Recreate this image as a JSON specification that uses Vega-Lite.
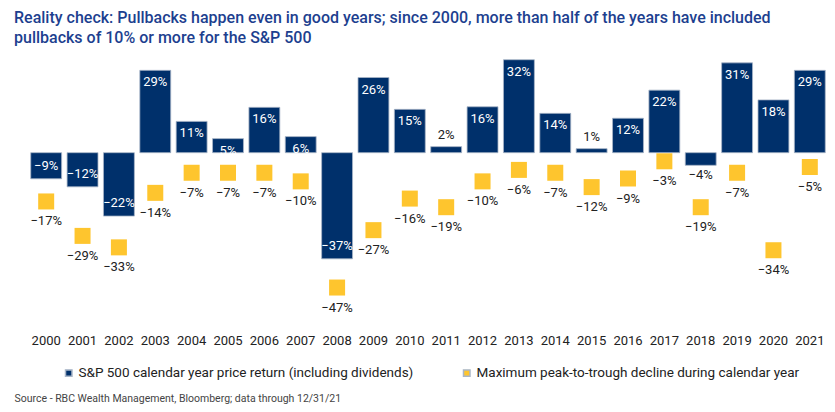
{
  "$schema": "https://vega.github.io/schema/vega-lite/v6.json",
  "autosize": {"type": "none"},
  "width": 800,
  "height": 270,
  "padding": {"left": 28, "top": 60, "right": 7, "bottom": 82},
  "background": "white",
  "config": {"view": {"stroke": null}, "font": "Roboto"},
  "title": {
    "text": ["Reality check: Pullbacks happen even in good years; since 2000, more than half of the years have included", "pullbacks of 10% or more for the S&P 500"],
    "anchor": "start",
    "frame": "group",
    "dx": -14,
    "offset": 13,
    "fontSize": 16,
    "fontWeight": 500,
    "lineHeight": 20,
    "color": "#1d3f8f"
  },
  "data": {"values": [
    {"year": "2000", "ret": -0.091, "dd": -0.17},
    {"year": "2001", "ret": -0.119, "dd": -0.29},
    {"year": "2002", "ret": -0.221, "dd": -0.33},
    {"year": "2003", "ret": 0.287, "dd": -0.14},
    {"year": "2004", "ret": 0.109, "dd": -0.07},
    {"year": "2005", "ret": 0.049, "dd": -0.07},
    {"year": "2006", "ret": 0.158, "dd": -0.07},
    {"year": "2007", "ret": 0.056, "dd": -0.10},
    {"year": "2008", "ret": -0.370, "dd": -0.47},
    {"year": "2009", "ret": 0.262, "dd": -0.27},
    {"year": "2010", "ret": 0.151, "dd": -0.16},
    {"year": "2011", "ret": 0.021, "dd": -0.19},
    {"year": "2012", "ret": 0.160, "dd": -0.10},
    {"year": "2013", "ret": 0.324, "dd": -0.06},
    {"year": "2014", "ret": 0.137, "dd": -0.07},
    {"year": "2015", "ret": 0.014, "dd": -0.12},
    {"year": "2016", "ret": 0.120, "dd": -0.09},
    {"year": "2017", "ret": 0.218, "dd": -0.03},
    {"year": "2018", "ret": -0.044, "dd": -0.19},
    {"year": "2019", "ret": 0.313, "dd": -0.07},
    {"year": "2020", "ret": 0.184, "dd": -0.34},
    {"year": "2021", "ret": 0.287, "dd": -0.05}
  ]},
  "encoding": {
    "x": {
      "field": "year", "type": "ordinal",
      "scale": {"paddingInner": 0.15},
      "axis": {
        "orient": "bottom", "domain": false, "ticks": false, "labelAngle": 0,
        "labelFontSize": 13, "labelColor": "#222", "labelPadding": 4,
        "title": "Source - RBC Wealth Management, Bloomberg; data through 12/31/21",
        "titleAnchor": "start", "titleAlign": "left", "titleX": -14, "titleY": 68,
        "titleBaseline": "middle", "titleFontSize": 10.5, "titleFontWeight": "normal", "titleColor": "#444"
      }
    }
  },
  "layer": [
    {
      "mark": {"type": "bar", "stroke": "#a9b6c8", "strokeWidth": 0.8},
      "encoding": {
        "y": {"field": "ret", "type": "quantitative", "scale": {"domain": [-0.618, 0.323], "nice": false, "zero": false}, "axis": null},
        "color": {
          "datum": "S&P 500 calendar year price return (including dividends)",
          "scale": {"domain": ["S&P 500 calendar year price return (including dividends)", "Maximum peak-to-trough decline during calendar year"], "range": ["#00306b", "#fec52e"]},
          "legend": {
            "title": null, "orient": "none", "legendX": 34, "legendY": 306, "direction": "horizontal",
            "symbolType": "square", "symbolSize": 42, "labelFontSize": 13.5, "labelColor": "#222",
            "labelOffset": 3, "columnPadding": 46, "labelLimit": 500
          }
        }
      }
    },
    {
      "mark": {"type": "rule", "color": "#aaaaaa", "strokeWidth": 2},
      "encoding": {"y": {"datum": 0, "type": "quantitative"}}
    },
    {
      "mark": {"type": "square", "size": 256, "filled": true, "opacity": 1},
      "encoding": {
        "y": {"field": "dd", "type": "quantitative"},
        "color": {"datum": "Maximum peak-to-trough decline during calendar year"}
      }
    },
    {
      "mark": {"type": "text", "baseline": "middle", "dy": 20, "fontSize": 13, "color": "#222"},
      "encoding": {
        "y": {"field": "dd", "type": "quantitative"},
        "text": {"field": "dd", "type": "quantitative", "format": ".0%"}
      }
    },
    {
      "transform": [{"filter": "datum.ret >= 0.04"}],
      "mark": {"type": "text", "baseline": "middle", "dy": 12, "fontSize": 13, "color": "white"},
      "encoding": {
        "y": {"field": "ret", "type": "quantitative"},
        "text": {"field": "ret", "type": "quantitative", "format": ".0%"}
      }
    },
    {
      "transform": [{"filter": "datum.ret <= -0.08"}],
      "mark": {"type": "text", "baseline": "middle", "dy": -13, "fontSize": 13, "color": "white"},
      "encoding": {
        "y": {"field": "ret", "type": "quantitative"},
        "text": {"field": "ret", "type": "quantitative", "format": ".0%"}
      }
    },
    {
      "transform": [{"filter": "datum.ret > 0 && datum.ret < 0.04"}],
      "mark": {"type": "text", "baseline": "middle", "dy": -12, "fontSize": 13, "color": "#222"},
      "encoding": {
        "y": {"field": "ret", "type": "quantitative"},
        "text": {"field": "ret", "type": "quantitative", "format": ".0%"}
      }
    },
    {
      "transform": [{"filter": "datum.ret < 0 && datum.ret > -0.08"}],
      "mark": {"type": "text", "baseline": "middle", "dy": 10, "fontSize": 13, "color": "#222"},
      "encoding": {
        "y": {"field": "ret", "type": "quantitative"},
        "text": {"field": "ret", "type": "quantitative", "format": ".0%"}
      }
    }
  ]
}
